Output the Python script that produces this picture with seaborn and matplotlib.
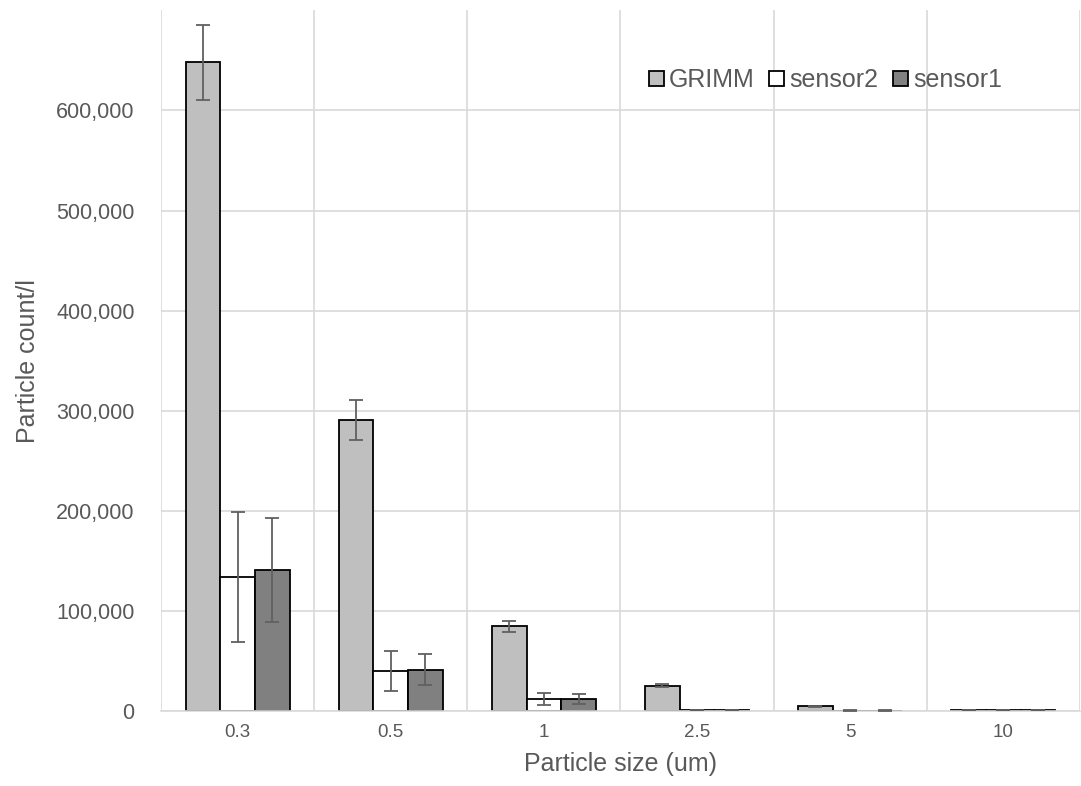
import numpy as np
import pandas as pd
import seaborn as sns
import matplotlib.pyplot as plt
from matplotlib.ticker import FuncFormatter, FixedLocator

# values
sizes = ["0.3", "0.5", "1", "2.5", "5", "10"]
series = ["GRIMM", "sensor2", "sensor1"]
grimm = [648000, 291000, 85000, 25300, 5000, 1200]
sensor2 = [134000, 40500, 12300, 1500, 800, 1000]
sensor1 = [141000, 41500, 12300, 1200, 800, 1000]
grimm_err = [37500, 20000, 5500, 1500, 500, 200]
sensor2_err = [65000, 20000, 6000, 300, 100, 100]
sensor1_err = [52000, 15600, 4800, 300, 100, 100]

colors = ["#BFBFBF", "#FFFFFF", "#808080"]

df = pd.DataFrame({
    "size": sizes * 3,
    "source": np.repeat(series, len(sizes)),
    "count": grimm + sensor2 + sensor1,
})
errs = [grimm_err, sensor2_err, sensor1_err]

sns.set_style("white")
plt.rcParams["font.family"] = ["Liberation Sans", "DejaVu Sans"]

fig = plt.figure(figsize=(10.81, 7.86), dpi=100)
ax = fig.add_axes([0.149, 0.095, 0.85, 0.892])

sns.barplot(data=df, x="size", y="count", hue="source", order=sizes,
            hue_order=series, palette=colors, width=0.68, edgecolor="black",
            linewidth=1.3, errorbar=None, ax=ax)

for cont, err in zip(ax.containers, errs):
    xs = [b.get_x() + b.get_width() / 2 for b in cont]
    hs = [b.get_height() for b in cont]
    ax.errorbar(xs, hs, yerr=err, fmt="none", ecolor="#606060",
                elinewidth=1.3, capsize=5, capthick=1.3, zorder=5)

ax.set_xlim(-0.5, 5.5)
ax.set_ylim(0, 700000)
ax.set_yticks(range(0, 700000, 100000))
ax.yaxis.set_major_formatter(FuncFormatter(lambda v, p: f"{int(v):,}"))
ax.xaxis.set_minor_locator(FixedLocator(np.arange(-0.5, 6, 1)))
ax.grid(axis="y", color="#D9D9D9", linewidth=1.2)
ax.grid(axis="x", which="minor", color="#D9D9D9", linewidth=1.2)
ax.set_axisbelow(True)
for s in ["top", "right", "left"]:
    ax.spines[s].set_visible(False)
ax.spines["bottom"].set_color("#D9D9D9")
ax.spines["bottom"].set_linewidth(1.2)

ax.tick_params(axis="y", labelsize=15.5, labelcolor="#595959", length=0, pad=19)
ax.tick_params(axis="x", which="major", labelsize=13.5, labelcolor="#595959",
               length=0, pad=9)
ax.tick_params(axis="x", which="minor", length=5, color="#D9D9D9")

ax.set_xlabel("Particle size (um)", fontsize=18, color="#595959", labelpad=8)
ax.set_ylabel("Particle count/l", fontsize=18, color="#595959", labelpad=12)

leg = ax.legend(loc="center right", bbox_to_anchor=(0.94, 0.90), ncol=3,
                frameon=False, fontsize=18, handlelength=0.6,
                handleheight=0.6, handletextpad=0.2, columnspacing=0.6)
for t in leg.get_texts():
    t.set_color("#595959")

fig.savefig("out.png", dpi=100)
